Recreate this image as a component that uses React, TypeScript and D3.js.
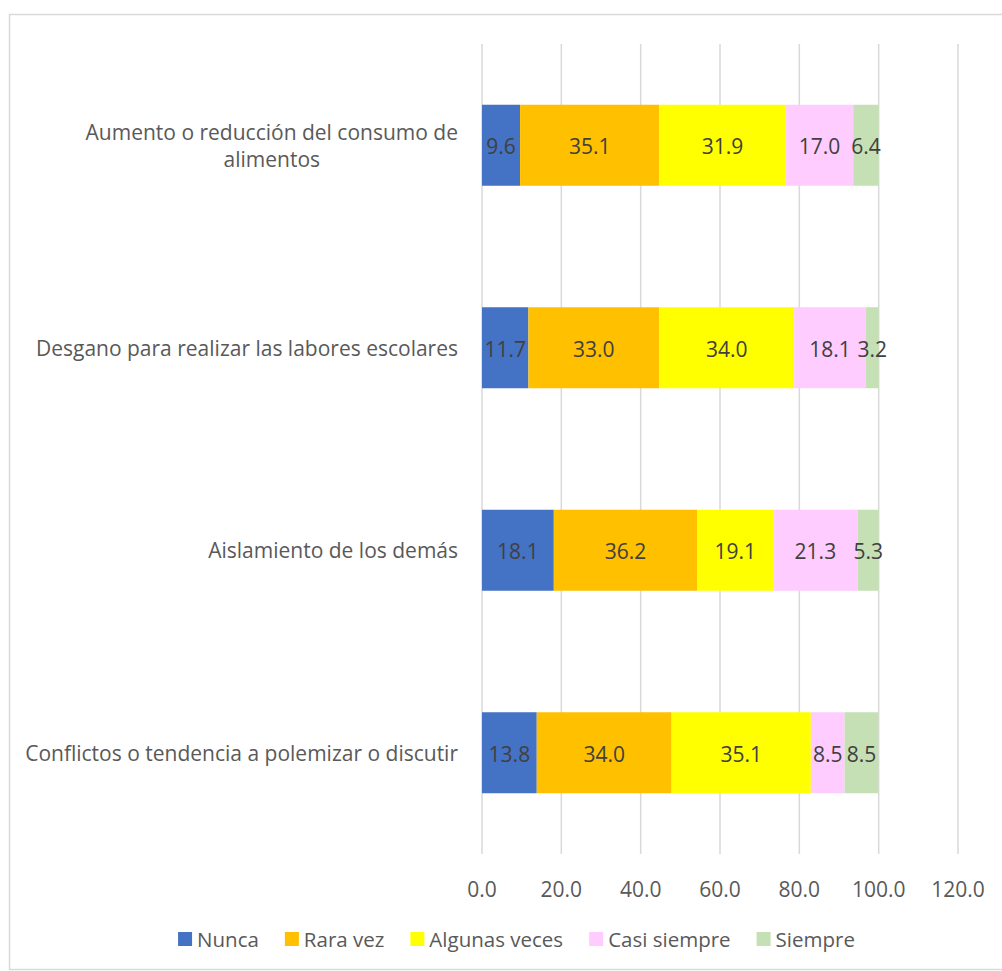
import React, { useEffect, useRef } from "react";
import * as d3 from "d3";

const categories = [
  "Aumento o reducción del consumo de alimentos",
  "Desgano para realizar las labores escolares",
  "Aislamiento de los demás",
  "Conflictos o tendencia a polemizar o discutir",
];
const seriesNames = ["Nunca", "Rara vez", "Algunas veces", "Casi siempre", "Siempre"];
const nunca = [9.6, 11.7, 18.1, 13.8];
const raraVez = [35.1, 33.0, 36.2, 34.0];
const algunasVeces = [31.9, 34.0, 19.1, 35.1];
const casiSiempre = [17.0, 18.1, 21.3, 8.5];
const siempre = [6.4, 3.2, 5.3, 8.5];
const xTicks = [0, 20, 40, 60, 80, 100, 120];
const colors = ["#4472C4", "#FFC000", "#FFFF00", "#FFCCFF", "#C5E0B4"];

const W = 1002;
const H = 971;
const FONT = "'Open Sans', 'Noto Sans', sans-serif";
const FS = 21;

export default function App() {
  const ref = useRef<SVGSVGElement>(null);

  useEffect(() => {
    const svg = d3.select(ref.current);
    svg.selectAll("*").remove();

    const seriesVals = [nunca, raraVez, algunasVeces, casiSiempre, siempre];
    const rows = categories.map((c, i) => {
      const o: any = { cat: c };
      seriesNames.forEach((s, j) => (o[s] = seriesVals[j][i]));
      return o;
    });
    const stack = d3.stack<any>().keys(seriesNames)(rows);

    const x = d3.scaleLinear().domain([0, 120]).range([482, 958]);
    const y = d3.scaleBand().domain(categories).range([44, 854]).paddingInner(0.6).paddingOuter(0.3);

    svg
      .append("rect")
      .attr("x", 9.5)
      .attr("y", 14.5)
      .attr("width", 1000)
      .attr("height", 955)
      .attr("fill", "#fff")
      .attr("stroke", "#D9D9D9")
      .attr("stroke-width", 1.5);

    // gridlines
    svg
      .append("g")
      .selectAll("line")
      .data(xTicks)
      .join("line")
      .attr("x1", (d) => x(d))
      .attr("x2", (d) => x(d))
      .attr("y1", 44)
      .attr("y2", 854)
      .attr("stroke", "#D9D9D9")
      .attr("stroke-width", 1.5);

    // bars
    const g = svg.append("g");
    stack.forEach((layer, si) => {
      const lg = g.append("g");
      lg.selectAll("rect")
        .data(layer)
        .join("rect")
        .attr("x", (d) => x(d[0]))
        .attr("width", (d) => x(d[1]) - x(d[0]))
        .attr("y", (d: any) => y(d.data.cat)!)
        .attr("height", y.bandwidth())
        .attr("fill", colors[si]);
      lg.selectAll("text")
        .data(layer)
        .join("text")
        .attr("x", (d) => (x(d[0]) + x(d[1])) / 2)
        .attr("y", (d: any) => y(d.data.cat)! + y.bandwidth() / 2 + 1)
        .attr("text-anchor", "middle")
        .attr("dominant-baseline", "central")
        .attr("font-family", FONT)
        .attr("font-size", FS)
        .attr("fill", "#404040")
        .text((d) => (d[1] - d[0]).toFixed(1));
    });

    // x tick labels
    svg
      .append("g")
      .selectAll("text")
      .data(xTicks)
      .join("text")
      .attr("x", (d) => x(d))
      .attr("y", 889)
      .attr("text-anchor", "middle")
      .attr("dominant-baseline", "central")
      .attr("font-family", FONT)
      .attr("font-size", FS)
      .attr("fill", "#595959")
      .text((d) => d3.format(".1f")(d));

    // category labels with wrapping
    const maxW = 445;
    const rightX = 458;
    categories.forEach((c) => {
      const words = c.split(" ");
      const t = svg
        .append("text")
        .attr("font-family", FONT)
        .attr("font-size", FS)
        .attr("fill", "#595959")
        .attr("text-anchor", "middle");
      const lines: string[] = [];
      let cur: string[] = [];
      const probe = t.append("tspan");
      words.forEach((w) => {
        const test = [...cur, w].join(" ");
        probe.text(test);
        if ((probe.node() as SVGTSpanElement).getComputedTextLength() > maxW && cur.length) {
          lines.push(cur.join(" "));
          cur = [w];
        } else cur.push(w);
      });
      lines.push(cur.join(" "));
      probe.remove();
      let widest = 0;
      lines.forEach((l) => {
        const p = t.append("tspan").text(l);
        widest = Math.max(widest, (p.node() as SVGTSpanElement).getComputedTextLength());
        p.remove();
      });
      const cx = rightX - widest / 2;
      const cy = y(c)! + y.bandwidth() / 2;
      const lh = 27;
      lines.forEach((l, i) => {
        t.append("tspan")
          .attr("x", cx)
          .attr("y", cy + (i - (lines.length - 1) / 2) * lh)
          .attr("dominant-baseline", "central")
          .text(l);
      });
    });

    // legend
    const lgd = svg.append("g");
    let lx = 0;
    const items: any[] = [];
    const gap = 26;
    seriesNames.forEach((s, i) => {
      const it = lgd.append("g");
      it.append("rect").attr("x", 0).attr("y", -7).attr("width", 14).attr("height", 14).attr("fill", colors[i]);
      const tx = it
        .append("text")
        .attr("x", 19)
        .attr("y", 0)
        .attr("dominant-baseline", "central")
        .attr("font-family", FONT)
        .attr("font-size", 20.5)
        .attr("fill", "#595959")
        .text(s);
      const w = 19 + (tx.node() as SVGTextElement).getComputedTextLength();
      items.push({ it, x: lx });
      lx += w + gap;
    });
    const total = lx - gap;
    const startX = 171 + (862 - 171 - total) / 2;
    items.forEach((o) => o.it.attr("transform", `translate(${startX + o.x},939)`));
  }, []);

  return (
    <svg ref={ref} width={W} height={H} style={{ display: "block", position: "absolute", left: 0, top: 0 }} />
  );
}
